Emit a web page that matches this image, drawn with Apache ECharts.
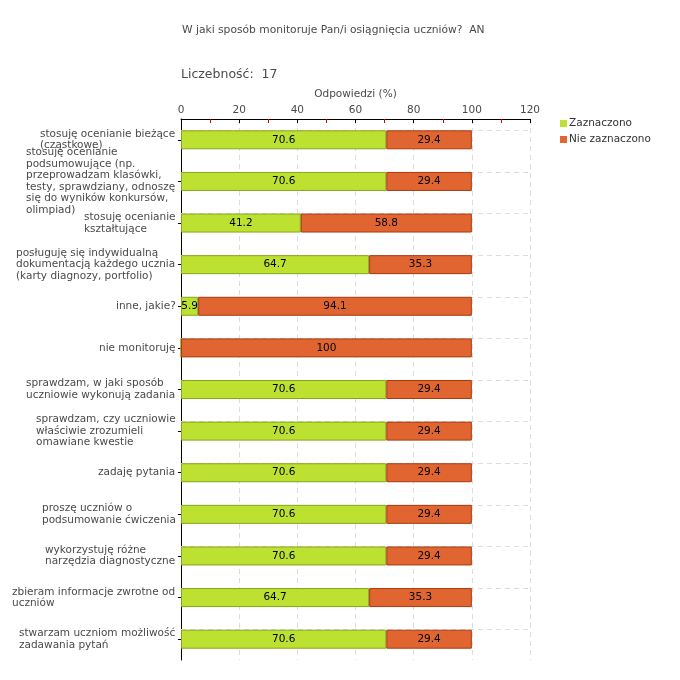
<!DOCTYPE html>
<html><head><meta charset="utf-8">
<script src="https://cdn.jsdelivr.net/npm/echarts@6/dist/echarts.min.js"></script>
<style>html,body{margin:0;padding:0;background:#fff}#c{width:680px;height:680px}</style>
</head><body><div id="c"></div>
<script>
const titleText = 'W jaki sposób monitoruje Pan/i osiągnięcia uczniów?  AN';
const countText = 'Liczebność:  17';
const axisName = 'Odpowiedzi (%)';
const categories = [
  'stosuję ocenianie bieżące\n(cząstkowe)',
  'stosuję ocenianie\npodsumowujące (np.\nprzeprowadzam klasówki,\ntesty, sprawdziany, odnoszę\nsię do wyników konkursów,\nolimpiad)',
  'stosuję ocenianie\nkształtujące',
  'posługuję się indywidualną\ndokumentacją każdego ucznia\n(karty diagnozy, portfolio)',
  'inne, jakie?',
  'nie monitoruję',
  'sprawdzam, w jaki sposób\nuczniowie wykonują zadania',
  'sprawdzam, czy uczniowie\nwłaściwie zrozumieli\nomawiane kwestie',
  'zadaję pytania',
  'proszę uczniów o\npodsumowanie ćwiczenia',
  'wykorzystuję różne\nnarzędzia diagnostyczne',
  'zbieram informacje zwrotne od\nuczniów',
  'stwarzam uczniom możliwość\nzadawania pytań'
];
const seriesNames = ['Zaznaczono', 'Nie zaznaczono'];
const zaznaczono = [70.6, 70.6, 41.2, 64.7, 5.9, 0, 70.6, 70.6, 70.6, 70.6, 70.6, 64.7, 70.6];
const nieZaznaczono = [29.4, 29.4, 58.8, 35.3, 94.1, 100, 29.4, 29.4, 29.4, 29.4, 29.4, 35.3, 29.4];

const FONT = '"DejaVu Sans", Verdana, sans-serif';
const LABEL_SIZE = 10.5;
const TXT = '#4a4a4a';
const cv = document.createElement('canvas').getContext('2d');
cv.font = LABEL_SIZE + 'px ' + FONT;
const widths = categories.map(c => Math.ceil(Math.max(...c.split('\n').map(l => cv.measureText(l).width))));

const chart = echarts.init(document.getElementById('c'), null, {renderer: 'canvas'});
chart.setOption({
  animation: false,
  backgroundColor: '#fff',
  title: [
    {text: titleText, left: 182, top: 25, padding: 0, textStyle: {fontFamily: FONT, fontSize: 10.7, fontWeight: 'normal', color: TXT}},
    {text: countText, left: 181, top: 68, padding: 0, textStyle: {fontFamily: FONT, fontSize: 12.5, fontWeight: 'normal', color: TXT}}
  ],
  legend: {
    orient: 'vertical', left: 560, top: 118, padding: 0, itemWidth: 7, itemHeight: 7, itemGap: 5,
    icon: 'rect', itemStyle: {borderWidth: 0},
    textStyle: {fontFamily: FONT, fontSize: 10.5, color: '#333', padding: [0,0,0,-3]},
    data: seriesNames
  },
  grid: {left: 181, right: 150, top: 119, bottom: 20, containLabel: false},
  xAxis: {
    type: 'value', position: 'top', min: 0, max: 120, interval: 20,
    name: axisName, nameLocation: 'middle', nameGap: 17,
    nameTextStyle: {fontFamily: FONT, fontSize: 10.5, color: TXT},
    axisLine: {show: true, lineStyle: {color: '#000', width: 1}},
    axisTick: {show: true, inside: true, length: 4, lineStyle: {color: '#000'}},
    minorTick: {show: true, splitNumber: 2, length: 4, lineStyle: {color: '#e00000'}},
    axisLabel: {fontFamily: FONT, fontSize: 10.5, color: TXT, margin: 3},
    splitLine: {show: true, lineStyle: {color: '#ddd', type: [5, 4]}}
  },
  yAxis: {
    type: 'category', inverse: true, data: categories,
    axisLine: {show: true, lineStyle: {color: '#000'}},
    axisTick: {show: true, alignWithLabel: true, length: 3, lineStyle: {color: '#000'}},
    axisLabel: {
      margin: 5, interval: 0, fontFamily: FONT, fontSize: LABEL_SIZE, color: TXT, lineHeight: 11.5,
      formatter: (v, i) => v.split('\n').map(l => '{l' + i + '|' + l + '}').join('\n'),
      rich: Object.fromEntries(widths.map((w, i) => ['l' + i, {width: w, align: 'left', fontFamily: FONT, fontSize: LABEL_SIZE, color: TXT, lineHeight: 11.5}]))
    }
  },
  series: [
    {
      name: 'guides', type: 'bar', data: [], z: 1, silent: true,
      markLine: {
        silent: true, symbol: 'none', label: {show: false}, z: 1,
        lineStyle: {color: '#ddd', type: [5, 4], width: 1},
        data: categories.map(c => ({yAxis: c}))
      }
    },
    {
      name: seriesNames[0], type: 'bar', stack: 's', barWidth: 19, z: 3,
      itemStyle: {color: '#bde130', borderColor: '#86a61a', borderWidth: 1},
      label: {show: true, position: 'inside', color: '#000', fontFamily: FONT, fontSize: 10.5,
        formatter: p => p.value > 0 ? String(p.value) : ''},
      data: zaznaczono
    },
    {
      name: seriesNames[1], type: 'bar', stack: 's', barWidth: 19, z: 3,
      itemStyle: {color: '#e06530', borderColor: '#a83a0e', borderWidth: 1},
      label: {show: true, position: 'inside', color: '#000', fontFamily: FONT, fontSize: 10.5,
        formatter: p => p.value > 0 ? String(p.value) : ''},
      data: nieZaznaczono
    }
  ]
});
</script></body></html>
